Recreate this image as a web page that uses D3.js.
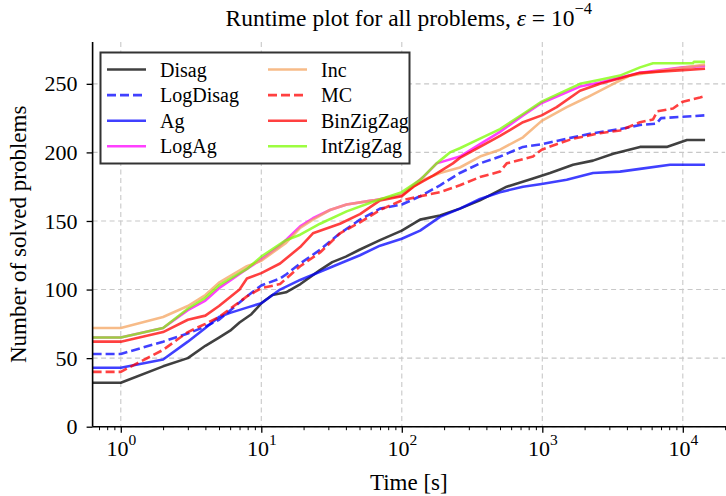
<!DOCTYPE html>
<html><head><meta charset="utf-8">
<script src="https://cdn.jsdelivr.net/npm/d3@7"></script>
<style>body{margin:0;background:#fff}svg{display:block}</style>
</head><body><svg id="c" width="726" height="496"></svg>
<script>
// ---- data: [time (s), number of solved problems] ----
const disag = [[0.63,32],[1,32],[2,44],[3,50],[4,59],[5,65],[6,70],[7,76],[8.5,82],[10,90],[12,96],[15,98],[19,104],[26,114],[32,120],[40,124],[50,129],[70,136],[100,143],[135,151],[187,154],[259,159],[360,165],[558,175],[859,181],[1135,185],[1655,191],[2295,194],[3201,199],[4961,204],[7680,204],[10700,209],[14400,209]];
const logDisag = [[0.63,53],[1,53],[2,62],[3,68],[4,73],[5,78],[7.9,95],[10,103],[13.6,108],[15,111],[18.9,119],[26.2,129],[36.3,141],[50.4,151],[70,159],[100,162],[135,168],[187,176],[259,185],[360,192],[500,197],[729,204],[990,206],[1492,210],[2295,214],[3572,217],[4961,220],[6500,221],[7000,225],[10000,226],[14400,227]];
const ag = [[0.63,43],[1,43],[2,49],[3,62],[4,72],[5,80],[6,83],[8,87],[10,90],[13.6,100],[18.9,107],[26.2,113],[36.3,119],[50.4,125],[70,132],[100,137],[135,143],[187,153],[259,159],[360,166],[500,171],[729,175],[990,177],[1492,180],[2295,185],[3572,186],[4961,188],[8110,191],[14400,191]];
const logAg = [[0.63,65],[1,65],[2,72],[3,85],[4,92],[5,101],[7.9,115],[10,122],[13.6,132],[18.9,146],[23.3,152],[30.8,158],[40.5,162],[62.4,165],[100,169],[142,182],[177,192],[259,197],[360,206],[500,215],[729,227],[990,236],[1855,248],[2574,251],[4961,258],[10000,262],[14400,263]];
const inc = [[0.63,72],[1,72],[2,80],[3,88],[4,96],[5,105],[7.9,117],[10,121],[15,134],[18.9,145],[23.3,151],[30.8,158],[40.5,162],[62.4,165],[100,169],[142,180],[187,185],[259,189],[360,197],[500,202],[729,211],[990,223],[1492,233],[2069,240],[3201,250],[4209,256],[5539,258],[14400,264]];
const mc = [[0.63,40],[1,40],[2,56],[3,69],[4,75],[5,80],[7.9,95],[10,101],[13.6,104],[18.9,117],[26.2,127],[36.3,141],[50.4,149],[70,158],[100,165],[135,168],[187,171],[259,176],[360,182],[500,186],[558,192],[859,197],[990,202],[1265,206],[1655,210],[2574,214],[3572,216],[4961,222],[6139,224],[6600,230],[8514,232],[10000,237],[13250,240],[14400,241]];
const binZigZag = [[0.63,62],[1,62],[2,69],[3,78],[4,81],[5,88],[7,100],[7.9,108],[10,112],[13.6,119],[18.9,131],[23.3,141],[36.3,148],[50.4,155],[70,165],[100,168],[121,175],[167,183],[231,192],[259,196],[360,204],[500,212],[729,222],[990,227],[1265,233],[1855,245],[2574,250],[4961,258],[10000,260],[14400,261]];
const intZigZag = [[0.63,65],[1,65],[2,72],[3,86],[4,94],[5,103],[7.9,115],[10,124],[15,136],[18.9,140],[26.2,148],[40.5,157],[62.4,164],[100,171],[135,180],[177,192],[220,200],[259,203],[360,210],[500,217],[729,228],[990,237],[1855,250],[2574,253],[3572,256],[4961,262],[6139,265],[11800,265],[12000,266],[14400,266]];

const seriesNames = ["Disag","LogDisag","Ag","LogAg","Inc","MC","BinZigZag","IntZigZag"];
const seriesValues = [disag, logDisag, ag, logAg, inc, mc, binZigZag, intZigZag];
const seriesColors = ["#000000","#0000ff","#0000ff","#ff00ff","#f4a460","#ff0000","#ff0000","#7cfc00"];
const seriesDashed = [false,true,false,false,false,true,false,false];
const xTickValues = [1,10,100,1000,10000];
const yTickValues = [0,50,100,150,200,250];
const xDomain = [0.63, 20000];
const yDomain = [0, 280.5];

// ---- layout ----
const W = 726, H = 496;
const m = {left: 92.6, right: 0.9, top: 42, bottom: 69.3};
const svg = d3.select("#c");
const font = "'Liberation Serif','Times New Roman',serif";

const x = d3.scaleLog().domain(xDomain).range([m.left, W - m.right]);
const y = d3.scaleLinear().domain(yDomain).range([H - m.bottom, m.top]);

svg.append("defs").append("clipPath").attr("id","clip")
  .append("rect").attr("x", m.left).attr("y", m.top)
  .attr("width", W - m.right - m.left).attr("height", H - m.bottom - m.top);

// grid
const grid = svg.append("g").attr("stroke","#c8c8c8").attr("stroke-width",1.1)
  .attr("stroke-dasharray","5,3.5");
grid.selectAll(".gx").data(xTickValues).join("line")
  .attr("x1", d => x(d)).attr("x2", d => x(d))
  .attr("y1", m.top).attr("y2", H - m.bottom);
grid.selectAll(".gy").data(yTickValues).join("line")
  .attr("x1", m.left).attr("x2", W - m.right)
  .attr("y1", d => y(d)).attr("y2", d => y(d));

// lines
const line = d3.line().x(d => x(d[0])).y(d => y(d[1]));
const lg = svg.append("g").attr("clip-path","url(#clip)");
seriesValues.forEach((vals, i) => {
  lg.append("path").attr("d", line(vals))
    .attr("fill","none").attr("stroke", seriesColors[i])
    .attr("stroke-opacity", 0.75).attr("stroke-width", 2.6)
    .attr("stroke-linejoin","round")
    .attr("stroke-dasharray", seriesDashed[i] ? "9,4" : null);
});

// axes
const xAxis = d3.axisBottom(x).tickValues(xTickValues).tickSize(6).tickPadding(5).tickFormat(() => "");
const gx = svg.append("g").attr("transform", `translate(0,${H - m.bottom})`).call(xAxis);
const minor = [];
for (let e = -1; e <= 4; e++) for (let k = 2; k <= 9; k++) {
  const v = k * Math.pow(10, e);
  if (v >= xDomain[0] && v <= xDomain[1]) minor.push(v);
}
svg.append("g").attr("transform", `translate(0,${H - m.bottom})`)
  .call(d3.axisBottom(x).tickValues(minor).tickSize(3.5).tickFormat(() => ""))
  .call(g => g.select(".domain").remove())
  .selectAll("line").attr("stroke-width", 1);
gx.select(".domain").attr("stroke-width", 1.6).attr("d", `M${m.left},0H${W}`);
gx.selectAll(".tick line").attr("stroke-width", 1.3);
gx.selectAll(".tick text").each(function(d) {
  const t = d3.select(this).attr("font-family", font).attr("font-size", 22)
    .attr("fill","#000").attr("y", 14).attr("dy","0.71em").attr("text-anchor","middle");
  t.text(null);
  t.append("tspan").text("10");
  t.append("tspan").attr("font-size", 15.5).attr("dy", "-0.75em").text(String(Math.round(Math.log10(d))));
});

const yAxis = d3.axisLeft(y).tickValues(yTickValues).tickSize(6).tickPadding(9);
const gy = svg.append("g").attr("transform", `translate(${m.left},0)`).call(yAxis);
gy.select(".domain").attr("stroke-width", 1.6).attr("d", `M0,${m.top}V${H - m.bottom}`);
gy.selectAll(".tick line").attr("stroke-width", 1.3);
gy.selectAll(".tick text").attr("font-family", font).attr("font-size", 22).attr("fill","#000");

// labels
const cx = (m.left + W - m.right) / 2;
svg.append("text").attr("x", cx).attr("y", 490).attr("text-anchor","middle")
  .attr("font-family", font).attr("font-size", 23).text("Time [s]");
svg.append("text").attr("transform", `translate(26,${(m.top + H - m.bottom)/2}) rotate(-90)`)
  .attr("text-anchor","middle").attr("font-family", font).attr("font-size", 23)
  .text("Number of solved problems");

// title
const title = svg.append("text").attr("x", cx).attr("y", 26).attr("text-anchor","middle")
  .attr("font-family", font).attr("font-size", 23.5);
title.append("tspan").text("Runtime plot for all problems, ");
title.append("tspan").attr("font-style","italic").text("ε");
title.append("tspan").text(" = 10");
title.append("tspan").attr("font-size", 16.5).attr("dy", "-0.7em").text("−4");

// legend
const leg = svg.append("g");
leg.append("rect").attr("x", 100.5).attr("y", 52.5).attr("width", 309).attr("height", 111)
  .attr("fill","#fff").attr("stroke","#333").attr("stroke-width", 2);
seriesNames.forEach((name, i) => {
  const col = Math.floor(i / 4), row = i % 4;
  const lx = col === 0 ? 107 : 268;
  const ly = 69.5 + row * 25.6;
  leg.append("line").attr("x1", lx).attr("x2", lx + 39).attr("y1", ly).attr("y2", ly)
    .attr("stroke", seriesColors[i]).attr("stroke-opacity", 0.75).attr("stroke-width", 2.6)
    .attr("stroke-dasharray", seriesDashed[i] ? "9,4" : null);
  leg.append("text").attr("x", lx + 53).attr("y", ly).attr("dy","0.35em")
    .attr("font-family", font).attr("font-size", 20).text(name);
});
</script></body></html>
